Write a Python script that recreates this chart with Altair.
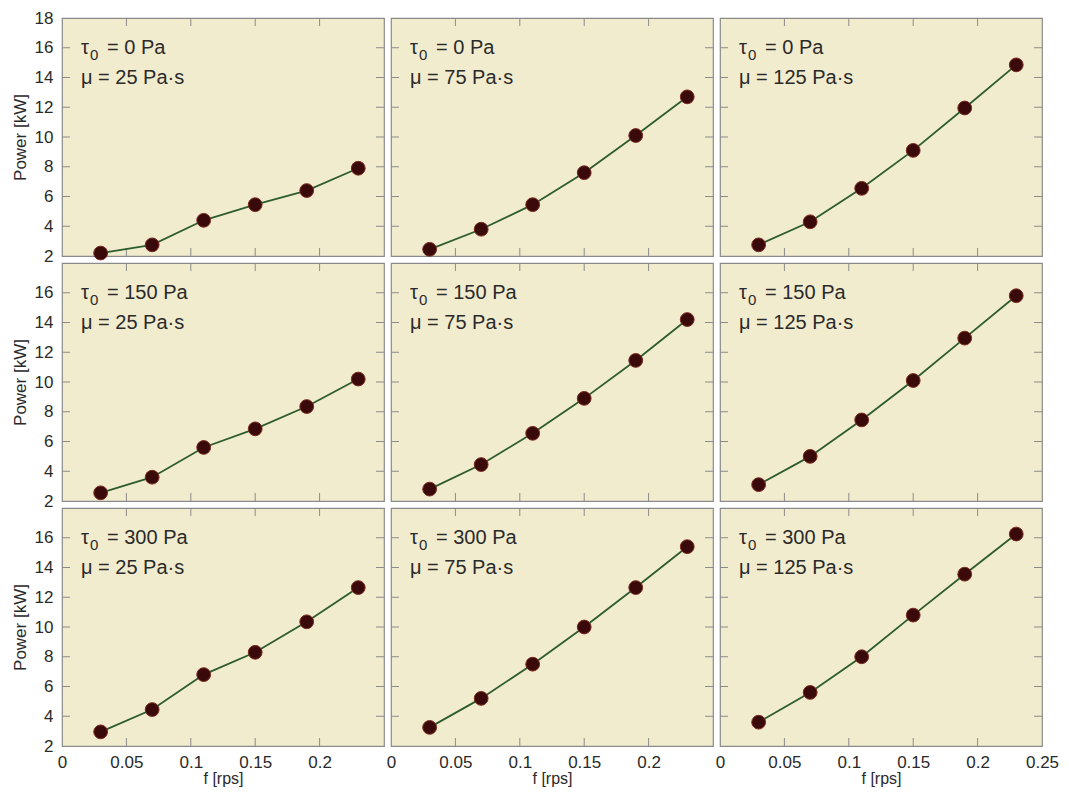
import altair as alt
import pandas as pd

# ---------------- data ----------------
F_RPS = [0.03, 0.07, 0.11, 0.15, 0.19, 0.23]
TAU0 = [0, 150, 300]          # Pa  (rows)
MU = [25, 75, 125]            # Pa·s (columns)

P_T0_M25 = [2.2, 2.75, 4.4, 5.45, 6.4, 7.9]
P_T0_M75 = [2.45, 3.8, 5.45, 7.6, 10.1, 12.7]
P_T0_M125 = [2.75, 4.3, 6.55, 9.1, 11.95, 14.85]

P_T150_M25 = [2.55, 3.6, 5.6, 6.85, 8.35, 10.2]
P_T150_M75 = [2.8, 4.45, 6.55, 8.9, 11.45, 14.2]
P_T150_M125 = [3.1, 5.0, 7.45, 10.1, 12.95, 15.8]

P_T300_M25 = [2.95, 4.45, 6.8, 8.3, 10.35, 12.65]
P_T300_M75 = [3.25, 5.2, 7.5, 10.0, 12.65, 15.4]
P_T300_M125 = [3.6, 5.6, 8.0, 10.8, 13.55, 16.25]

POWER = [
    [P_T0_M25, P_T0_M75, P_T0_M125],
    [P_T150_M25, P_T150_M75, P_T150_M125],
    [P_T300_M25, P_T300_M75, P_T300_M125],
]

Y_TICKS = [4, 6, 8, 10, 12, 14, 16]
X_TICKS = [0.05, 0.1, 0.15, 0.2]
Y_LABELS_TOP = [2, 4, 6, 8, 10, 12, 14, 16, 18]
Y_LABELS = [2, 4, 6, 8, 10, 12, 14, 16]
X_LABELS = [0, 0.05, 0.1, 0.15, 0.2]
X_LABELS_LAST = [0, 0.05, 0.1, 0.15, 0.2, 0.25]

# ---------------- style ----------------
W, H = 322, 238
FONT = "Liberation Sans"
BG = "#F2ECCF"
FRAME = "#8a8a8a"
TXT = "#2a2a2a"
LINE = "#2d5c2d"
DOT = "#3a0909"
DOT_EDGE = "#7a2a22"
TL = 8  # inward tick length


def panel(r, c):
    df = pd.DataFrame({"f": F_RPS, "p": POWER[r][c]})
    xscale = alt.Scale(domain=[0, 0.25], nice=False, zero=False)
    yscale = alt.Scale(domain=[2, 18], nice=False, zero=False)

    if r == 2:
        xaxis = alt.Axis(
            values=X_LABELS_LAST if c == 2 else X_LABELS,
            title="f [rps]", format="~g", ticks=False, domain=False, grid=False,
            labelFlush=False, labelOverlap=False, labelFont=FONT, titleFont=FONT,
            labelFontSize=17, titleFontSize=16, labelColor=TXT, titleColor=TXT,
            titleFontWeight="normal", labelPadding=8, titlePadding=0,
        )
    else:
        xaxis = None
    if c == 0:
        yaxis = alt.Axis(
            values=Y_LABELS_TOP if r == 0 else Y_LABELS,
            title="Power [kW]", ticks=False, domain=False, grid=False,
            labelFlush=False, labelOverlap=False, labelFont=FONT, titleFont=FONT,
            labelFontSize=17, titleFontSize=17, labelColor=TXT, titleColor=TXT,
            titleFontWeight="normal", labelPadding=9, titlePadding=5,
        )
    else:
        yaxis = None

    X = alt.X("f:Q", scale=xscale, axis=xaxis)
    Y = alt.Y("p:Q", scale=yscale, axis=yaxis)

    line = alt.Chart(df).mark_line(color=LINE, strokeWidth=1.8).encode(x=X, y=Y)
    dots = alt.Chart(df).mark_point(
        filled=True, size=190, color=DOT, stroke=DOT_EDGE, strokeWidth=1, opacity=1
    ).encode(x=X, y=Y)

    yt = pd.DataFrame({"p": Y_TICKS})
    xt = pd.DataFrame({"f": X_TICKS})
    tick = dict(color=FRAME, strokeWidth=1)
    t_left = alt.Chart(yt).mark_rule(**tick).encode(y=Y, x=alt.value(0), x2=alt.value(TL))
    t_right = alt.Chart(yt).mark_rule(**tick).encode(y=Y, x=alt.value(W - TL), x2=alt.value(W))
    t_top = alt.Chart(xt).mark_rule(**tick).encode(x=X, y=alt.value(0), y2=alt.value(TL))
    t_bot = alt.Chart(xt).mark_rule(**tick).encode(x=X, y=alt.value(H - TL), y2=alt.value(H))

    lab = pd.DataFrame({
        "tau": ["τ"],
        "sub": ["0"],
        "rest": [f"= {TAU0[r]} Pa"],
        "mu": [f"μ = {MU[c]} Pa·s"],
    })
    tx = dict(font=FONT, fontSize=20, color=TXT, align="left", baseline="middle")
    a1 = alt.Chart(lab).mark_text(**tx).encode(text="tau:N", x=alt.value(19), y=alt.value(30))
    a2 = alt.Chart(lab).mark_text(font=FONT, fontSize=15, color=TXT, align="left",
                                  baseline="middle").encode(text="sub:N", x=alt.value(28), y=alt.value(37))
    a3 = alt.Chart(lab).mark_text(**tx).encode(text="rest:N", x=alt.value(45), y=alt.value(30))
    a4 = alt.Chart(lab).mark_text(**tx).encode(text="mu:N", x=alt.value(19), y=alt.value(60))

    return alt.layer(t_left, t_right, t_top, t_bot, line, dots, a1, a2, a3, a4).properties(
        width=W, height=H
    )


panels = [panel(r, c) for r in range(3) for c in range(3)]
chart = alt.concat(*panels, columns=3, spacing=7, bounds="flush").properties(
    padding={"left": 2, "top": 0, "right": 0, "bottom": 0},
    background="white",
).configure_view(fill=BG, stroke=FRAME, strokeWidth=1.2)

chart.save("out.html", embed_options={"renderer": "svg", "actions": False})
